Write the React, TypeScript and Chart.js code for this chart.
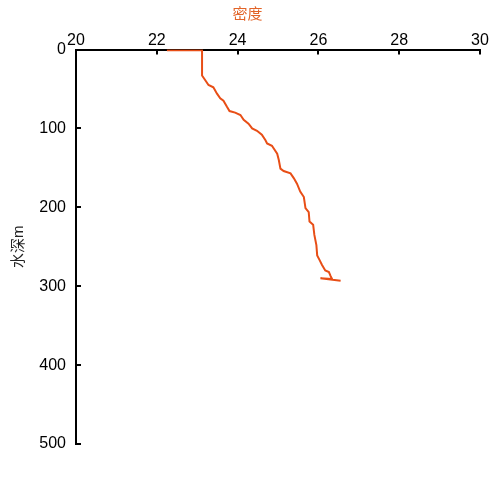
import React, { useEffect, useRef } from "react";
import { Chart, registerables } from "chart.js";

Chart.register(...registerables);

const density = [
  22.25, 23.12, 23.12, 23.20, 23.28, 23.40, 23.49, 23.57, 23.65, 23.74, 23.80, 23.94,
  24.07, 24.15, 24.27, 24.36, 24.48, 24.60, 24.69, 24.73, 24.85, 24.98, 25.02, 25.06,
  25.14, 25.31, 25.39, 25.47, 25.55, 25.64, 25.68, 25.76, 25.78, 25.87, 25.90, 25.95,
  25.97, 26.03, 26.09, 26.17, 26.26, 26.30, 26.34, 26.05, 26.55,
];
const depth = [
  1, 1, 33, 39, 45, 48, 56, 62, 65, 73, 78, 80,
  83, 89, 94, 100, 103, 108, 115, 119, 122, 132, 140, 151,
  154, 157, 163, 170, 180, 187, 201, 206, 218, 222, 235, 248,
  261, 267, 273, 280, 282, 287, 291, 290, 293,
];

const xMin = 20, xMax = 30, xStep = 2;
const yMin = 0, yMax = 500, yStep = 100;

const xTitle = "密度";
const yTitle = "水深m";

const lineColor = "rgb(232,78,22)";
const titleColor = "rgb(226,100,40)";
const fontFamily = "'Liberation Sans', Arial, 'Noto Sans CJK SC', sans-serif";

const innerTicks = {
  id: "innerTicks",
  afterDraw(chart: any) {
    const { ctx, chartArea, scales } = chart;
    ctx.save();
    ctx.strokeStyle = "#000";
    ctx.lineWidth = 2;
    const len = 5;
    scales.x.ticks.forEach((t: any) => {
      const px = Math.round(scales.x.getPixelForValue(t.value));
      ctx.beginPath();
      ctx.moveTo(px, chartArea.top);
      ctx.lineTo(px, chartArea.top + len);
      ctx.stroke();
    });
    scales.y.ticks.forEach((t: any) => {
      const py = Math.round(scales.y.getPixelForValue(t.value));
      ctx.beginPath();
      ctx.moveTo(chartArea.left, py);
      ctx.lineTo(chartArea.left + len, py);
      ctx.stroke();
    });
    ctx.restore();
  },
};

export default function App() {
  const ref = useRef<HTMLCanvasElement | null>(null);
  useEffect(() => {
    if (!ref.current) return;
    const points = density.map((d, i) => ({ x: d, y: depth[i] }));
    const chart = new Chart(ref.current, {
      type: "scatter",
      data: {
        datasets: [
          {
            data: points,
            showLine: true,
            borderColor: lineColor,
            borderWidth: 2,
            pointRadius: 0,
            fill: false,
            tension: 0,
          },
        ],
      },
      options: {
        animation: false,
        responsive: false,
        layout: { padding: { left: 15, right: 20, top: 0, bottom: 56 } },
        plugins: {
          legend: { display: false },
          tooltip: { enabled: false },
          title: {
            display: true,
            text: xTitle,
            color: titleColor,
            font: { family: fontFamily, size: 15, weight: "normal" },
            padding: { top: 5.5, bottom: 6 },
          },
        },
        scales: {
          x: {
            type: "linear",
            position: "top",
            min: xMin,
            max: xMax,
            ticks: {
              stepSize: xStep,
              color: "#000",
              padding: -1,
              font: { family: fontFamily, size: 16 },
            },
            grid: { display: false, drawTicks: false },
            border: { display: true, color: "#000", width: 2 },
            afterFit(scale: any) {
              scale.height = 20;
            },
          },
          y: {
            type: "linear",
            reverse: true,
            min: yMin,
            max: yMax,
            ticks: {
              stepSize: yStep,
              color: "#000",
              padding: 10,
              font: { family: fontFamily, size: 16 },
            },
            grid: { display: false, drawTicks: false },
            border: { display: true, color: "#000", width: 2 },
            title: {
              display: true,
              text: yTitle,
              color: "#222",
              font: { family: fontFamily, size: 15 },
              padding: { top: -5.5, bottom: 0 },
            },
            afterFit(scale: any) {
              scale.width = 61;
            },
          },
        },
      },
      plugins: [innerTicks],
    });
    return () => chart.destroy();
  }, []);
  return (
    <div style={{ position: "fixed", left: 0, top: 0, width: 500, height: 500, background: "#fff" }}>
      <canvas ref={ref} width={500} height={500} />
    </div>
  );
}
